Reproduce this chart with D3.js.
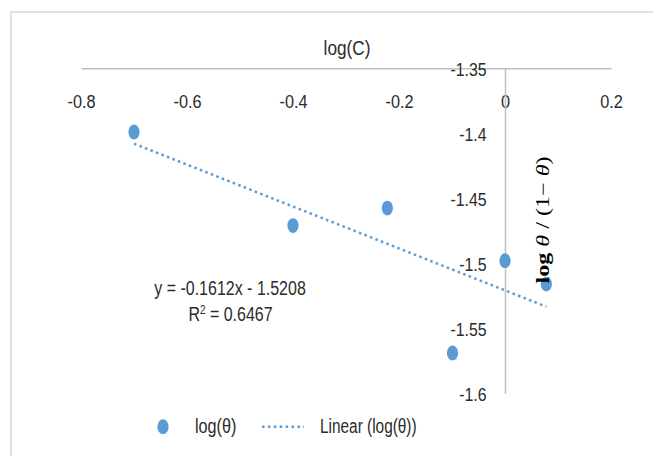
<!DOCTYPE html>
<html>
<head>
<meta charset="utf-8">
<script src="https://cdn.jsdelivr.net/npm/d3@7"></script>
<style>
  html, body { margin: 0; padding: 0; background: #fff; }
  svg { display: block; }
  text { font-family: "Liberation Sans", Arial, sans-serif; fill: #2b2b2b; }
</style>
</head>
<body>
<svg id="chart" width="653" height="456"></svg>
<script>
// ---- data ----
const xValues = [-0.70, -0.40, -0.222, 0.0, -0.099, 0.078];
const yValues = [-1.399, -1.471, -1.4575, -1.498, -1.569, -1.516];
const trendCoef = [-0.1612, -1.5208]; // slope, intercept
const xTickValues = [-0.8, -0.6, -0.4, -0.2, 0, 0.2];
const xTickLabels = ["-0.8", "-0.6", "-0.4", "-0.2", "0", "0.2"];
const yTickValues = [-1.35, -1.4, -1.45, -1.5, -1.55, -1.6];
const yTickLabels = ["-1.35", "-1.4", "-1.45", "-1.5", "-1.55", "-1.6"];
const chartTitle = "log(C)";
const eqText = "y = -0.1612x - 1.5208";
const r2Value = "0.6467";
const seriesName = "log(θ)";
const trendName = "Linear (log(θ))";

const blue = "#5b9bd5";
const axisGray = "#bfbfbf";
const textColor = "#2b2b2b";
const svg = d3.select("#chart");

// frame (only left/top visible, cropped)
svg.append("rect").attr("x", 11).attr("y", 12).attr("width", 700).attr("height", 500)
  .attr("fill", "none").attr("stroke", "#d9d9d9").attr("stroke-width", 1.5);

const x = d3.scaleLinear().domain([-0.8, 0.2]).range([81, 611]);
const y = d3.scaleLinear().domain([-1.35, -1.6]).range([68.3, 393.3]);

function label(parent, px, py, txt, size, sx, anchor) {
  return parent.append("text")
    .attr("transform", `translate(${px},${py}) scale(${sx},1)`)
    .attr("text-anchor", anchor || "middle")
    .style("font-size", size + "px")
    .text(txt);
}

// x axis (crosses at y = -1.35)
const xAxis = svg.append("g")
  .attr("transform", `translate(0,${y(-1.35)})`)
  .call(d3.axisBottom(x).tickValues(xTickValues)
    .tickFormat((d, i) => xTickLabels[i]).tickSize(0).tickSizeOuter(0));
xAxis.select(".domain").attr("stroke", axisGray).attr("stroke-width", 1.5);
xAxis.selectAll(".tick text")
  .attr("y", 0).attr("dy", 0)
  .attr("transform", "translate(0,39.5) scale(0.88,1)")
  .style("font-size", "18.5px").attr("fill", textColor);

// y axis (crosses at x = 0)
const yAxis = svg.append("g")
  .attr("transform", `translate(${x(0)},0)`)
  .call(d3.axisLeft(y).tickValues(yTickValues)
    .tickFormat((d, i) => yTickLabels[i]).tickSize(0).tickSizeOuter(0));
yAxis.select(".domain").attr("stroke", axisGray).attr("stroke-width", 1.5);
yAxis.selectAll(".tick text")
  .attr("x", 0).attr("dy", 0)
  .attr("transform", "translate(-18.5,7.5) scale(0.88,1)")
  .attr("text-anchor", "end")
  .style("font-size", "18px").attr("fill", textColor);

// trendline
const tx0 = d3.min(xValues), tx1 = d3.max(xValues);
svg.append("line")
  .attr("x1", x(tx0)).attr("y1", y(trendCoef[0] * tx0 + trendCoef[1]))
  .attr("x2", x(tx1)).attr("y2", y(trendCoef[0] * tx1 + trendCoef[1]))
  .attr("stroke", blue).attr("stroke-width", 2.5).attr("stroke-dasharray", "2.5 3.4");

// markers
svg.append("g").selectAll("ellipse")
  .data(xValues.map((d, i) => [d, yValues[i]]))
  .join("ellipse")
  .attr("cx", d => x(d[0])).attr("cy", d => y(d[1]))
  .attr("rx", 5.6).attr("ry", 7.4).attr("fill", blue);

// title
label(svg, 347, 54.5, chartTitle, 20.5, 0.84);

// y-axis title (rotated, serif)
const yt = svg.append("text")
  .attr("transform", "translate(548.5,220) rotate(-90) scale(1.34,1)")
  .attr("text-anchor", "middle")
  .style("font-family", "'Liberation Serif', 'DejaVu Serif', serif")
  .style("font-size", "18px")
  .attr("fill", "#000");
yt.append("tspan").style("font-weight", "bold").attr("fill", "#000").text("log");
yt.append("tspan").attr("fill", "#000").text(" ");
yt.append("tspan").style("font-style", "italic").attr("fill", "#000").text("θ");
yt.append("tspan").attr("fill", "#000").text(" / (1− ");
yt.append("tspan").style("font-style", "italic").attr("fill", "#000").text("θ");
yt.append("tspan").attr("fill", "#000").text(")");

// equation
label(svg, 230, 295, eqText, 19.5, 0.82);
const r2 = svg.append("text")
  .attr("transform", "translate(230.5,320.5) scale(0.82,1)")
  .attr("text-anchor", "middle").style("font-size", "19.5px");
r2.append("tspan").text("R");
r2.append("tspan").attr("dy", -7).style("font-size", "12px").text("2");
r2.append("tspan").attr("dy", 7).text(" = " + r2Value);

// legend
svg.append("ellipse").attr("cx", 163).attr("cy", 426.7).attr("rx", 5.6).attr("ry", 7.4).attr("fill", blue);
label(svg, 195, 433, seriesName, 20, 0.81, "start");
svg.append("line").attr("x1", 262).attr("x2", 304).attr("y1", 426.7).attr("y2", 426.7)
  .attr("stroke", blue).attr("stroke-width", 2.5).attr("stroke-dasharray", "2.5 3.4");
label(svg, 320, 433, trendName, 20, 0.77, "start");
</script>
</body>
</html>
